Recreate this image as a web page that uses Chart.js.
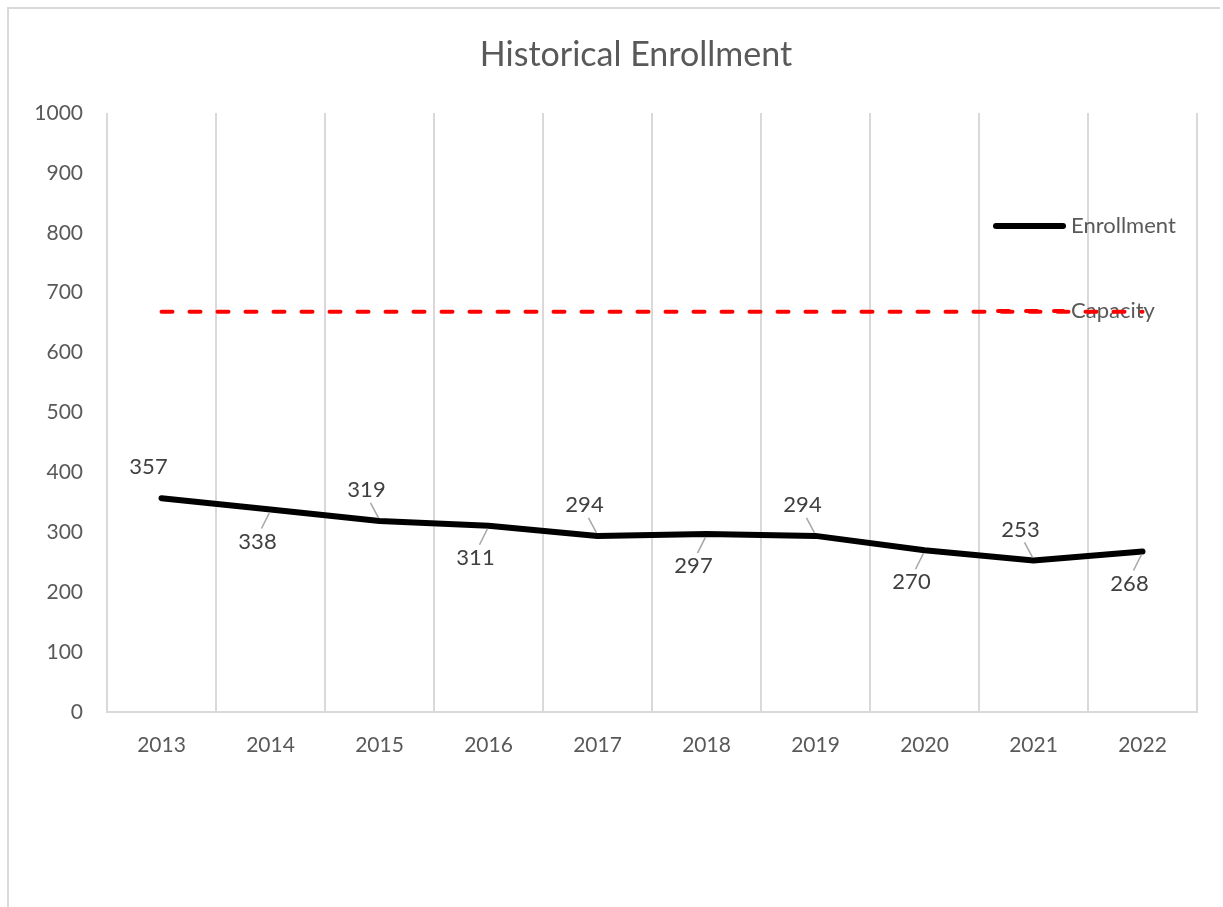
<!DOCTYPE html>
<html>
<head>
<meta charset="utf-8">
<script src="https://cdn.jsdelivr.net/npm/chart.js@4.4.1/dist/chart.umd.min.js"></script>
<style>
  html, body { margin: 0; padding: 0; background: #fff; overflow: hidden; }
  #wrap { position: absolute; left: 0; top: 0; width: 1223px; height: 907px; }
</style>
</head>
<body>
<div id="wrap"><canvas id="chart"></canvas></div>
<script>
const years = ['2013', '2014', '2015', '2016', '2017', '2018', '2019', '2020', '2021', '2022'];
const enrollment = [357, 338, 319, 311, 294, 297, 294, 270, 253, 268];
const capacity = [668, 668, 668, 668, 668, 668, 668, 668, 668, 668];
const yTicks = [0, 100, 200, 300, 400, 500, 600, 700, 800, 900, 1000];
const chartTitle = 'Historical Enrollment';

const FONT = 'Lato, "Open Sans", sans-serif';
const GREY = '#595959';

// outer frame and title
const framePlugin = {
    id: 'frame',
    beforeDraw(chart) {
        const c = chart.ctx;
        c.save();
        c.strokeStyle = '#d9d9d9';
        c.lineWidth = 2;
        c.beginPath();
        c.moveTo(8, chart.height);
        c.lineTo(8, 8);
        c.lineTo(chart.width - 3, 8);
        c.stroke();
        c.font = '34px ' + FONT;
        c.fillStyle = GREY;
        c.textAlign = 'center';
        c.textBaseline = 'middle';
        c.fillText(chartTitle, 636, 55);
        c.restore();
    }
};

// data labels with small leader lines, alternating above / below
const labelPlugin = {
    id: 'enrollLabels',
    afterDatasetsDraw(chart) {
        const c = chart.ctx;
        const meta = chart.getDatasetMeta(0);
        c.save();
        c.font = '22px ' + FONT;
        c.fillStyle = '#404040';
        c.textAlign = 'center';
        c.textBaseline = 'middle';
        meta.data.forEach((pt, i) => {
            const up = i % 2 === 0;
            const lx = pt.x - 13;
            const ly = pt.y + (up ? -31 : 32);
            if (i > 0) {
                c.strokeStyle = '#a6a6a6';
                c.lineWidth = 1.5;
                c.beginPath();
                c.moveTo(lx + 4, ly + (up ? 13 : -13));
                c.lineTo(pt.x - 1, pt.y + (up ? -3 : 3));
                c.stroke();
            }
            c.fillText(String(enrollment[i]), lx, ly);
        });
        c.restore();
    }
};

// legend drawn inside the plot like the original
const legendPlugin = {
    id: 'sideLegend',
    beforeDatasetsDraw(chart) {
        const c = chart.ctx;
        const x0 = chart.chartArea.right - 201;
        c.save();
        c.font = '22px ' + FONT;
        c.fillStyle = GREY;
        c.textBaseline = 'middle';
        c.fillText('Enrollment', x0 + 75, 226);
        c.fillText('Capacity', x0 + 75, 311);
        c.lineCap = 'round';
        c.strokeStyle = '#000';
        c.lineWidth = 6;
        c.beginPath();
        c.moveTo(x0, 226);
        c.lineTo(x0 + 67, 226);
        c.stroke();
        c.strokeStyle = '#ff0000';
        c.lineWidth = 4;
        c.setLineDash([11, 17]);
        c.beginPath();
        c.moveTo(x0 + 2, 311);
        c.lineTo(x0 + 67, 311);
        c.stroke();
        c.restore();
    }
};

const ctx = document.getElementById('chart').getContext('2d');
const myChart = new Chart(ctx, {
    type: 'line',
    data: {
        labels: years,
        datasets: [{
            label: 'Enrollment',
            data: enrollment,
            borderColor: '#000000',
            borderWidth: 6,
            borderCapStyle: 'round',
            borderJoinStyle: 'round',
            pointRadius: 0,
            fill: false,
            tension: 0
        }, {
            label: 'Capacity',
            data: capacity,
            borderColor: '#ff0000',
            borderWidth: 4,
            borderCapStyle: 'round',
            borderDash: [11, 17],
            pointRadius: 0,
            fill: false,
            tension: 0
        }]
    },
    options: {
        responsive: true,
        maintainAspectRatio: false,
        animation: false,
        layout: { padding: { left: 0, right: 26, top: 113, bottom: 135 } },
        plugins: {
            legend: { display: false },
            tooltip: { enabled: false },
            title: { display: false }
        },
        scales: {
            x: {
                offset: true,
                grid: { display: true, offset: true, color: '#d9d9d9', lineWidth: 2, drawTicks: false },
                border: { display: true, color: '#d9d9d9', width: 2 },
                ticks: { color: GREY, font: { family: FONT, size: 21 }, padding: 21 },
                afterFit(scale) { scale.height = 60; }
            },
            y: {
                min: 0,
                max: 1000,
                afterBuildTicks(scale) { scale.ticks = yTicks.map(v => ({ value: v })); },
                grid: { display: false, drawTicks: false },
                border: { display: false },
                ticks: {
                    color: GREY, font: { family: FONT, size: 21 }, padding: 24,
                    callback: v => String(v)
                },
                afterFit(scale) { scale.width = 107; }
            }
        }
    },
    plugins: [framePlugin, labelPlugin, legendPlugin]
});
</script>
</body>
</html>
